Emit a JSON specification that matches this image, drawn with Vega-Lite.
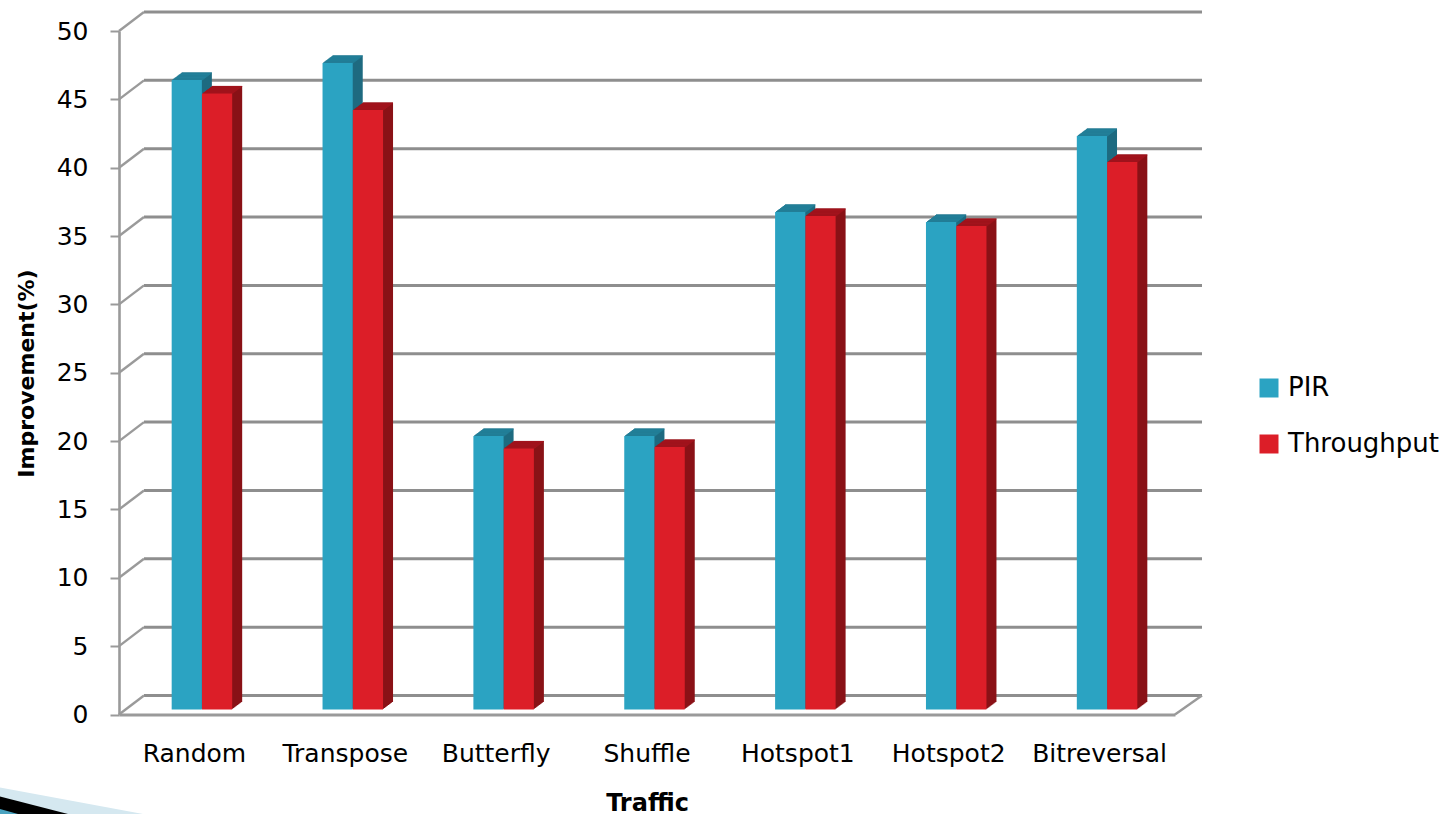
{"$schema":"https://vega.github.io/schema/vega-lite/v6.json","autosize":{"type":"none"},"padding":{"left":119,"top":31,"right":272,"bottom":99.5},"width":1056,"height":683.5,"background":"white","config":{"view":{"stroke":null},"font":"DejaVu Sans"},
"datasets":{"bars":[
{"traffic":"Random","series":"PIR","value":46.05},{"traffic":"Random","series":"Throughput","value":45.07},
{"traffic":"Transpose","series":"PIR","value":47.3},{"traffic":"Transpose","series":"Throughput","value":43.85},
{"traffic":"Butterfly","series":"PIR","value":20.0},{"traffic":"Butterfly","series":"Throughput","value":19.1},
{"traffic":"Shuffle","series":"PIR","value":20.0},{"traffic":"Shuffle","series":"Throughput","value":19.2},
{"traffic":"Hotspot1","series":"PIR","value":36.4},{"traffic":"Hotspot1","series":"Throughput","value":36.1},
{"traffic":"Hotspot2","series":"PIR","value":35.66},{"traffic":"Hotspot2","series":"Throughput","value":35.37},
{"traffic":"Bitreversal","series":"PIR","value":41.95},{"traffic":"Bitreversal","series":"Throughput","value":40.05}],
"ticks":[{"tick":0},{"tick":5},{"tick":10},{"tick":15},{"tick":20},{"tick":25},{"tick":30},{"tick":35},{"tick":40},{"tick":45},{"tick":50}],
"wedge":[{"part":"pale","run":0,"rise":787.5},{"part":"pale","run":143,"rise":814},{"part":"black","run":0,"rise":796.5},{"part":"black","run":68,"rise":814},{"part":"blue","run":0,"rise":809},{"part":"blue","run":18,"rise":814}]},
"resolve":{"scale":{"x":"independent","y":"independent"},"axis":{"x":"independent","y":"independent"}},
"layer":[
{"data":{"name":"wedge"},"encoding":{"x":{"field":"run","type":"quantitative","axis":null,"scale":{"domain":[0,143],"range":[-119,24],"nice":false,"zero":false}},"y":{"field":"rise","type":"quantitative","axis":null,"scale":{"domain":[787,814],"range":[756,783],"nice":false,"zero":false}},"y2":{"datum":814}},
"layer":[
{"transform":[{"filter":"datum.part==='pale'"}],"mark":{"type":"area","color":"#d5e8f0"}},
{"transform":[{"filter":"datum.part==='black'"}],"mark":{"type":"area","color":"#000000"}},
{"transform":[{"filter":"datum.part==='blue'"}],"mark":{"type":"area","color":"#4aa3c0"}}]},
{"layer":[
{"data":{"name":"ticks"},"mark":{"type":"rule","color":"#8e8e8e","strokeWidth":3,"yOffset":-19},"encoding":{"x":{"value":25},"x2":{"value":1083},"y":{"field":"tick","type":"quantitative","scale":{"domain":[0,50],"nice":false},"axis":{"values":[0,5,10,15,20,25,30,35,40,45,50],"grid":false,"title":"Improvement(%)","titleFontSize":22,"titleFontWeight":"bold","titleColor":"#000000","titleX":-81,"titleY":342,"labelFontSize":25,"labelColor":"#000000","labelPadding":22,"tickSize":9,"tickColor":"#9a9a9a","tickWidth":2,"domainColor":"#9a9a9a","domainWidth":2.6}}}},
{"data":{"name":"ticks"},"mark":{"type":"rule","color":"#9a9a9a","strokeWidth":2.4,"y2Offset":-19},"encoding":{"x":{"value":0},"x2":{"value":25},"y":{"field":"tick","type":"quantitative"},"y2":{"field":"tick"}}},
{"data":{"name":"ticks"},"transform":[{"filter":"datum.tick===0"}],"mark":{"type":"rule","color":"#9a9a9a","strokeWidth":2.4,"y2Offset":-19},"encoding":{"x":{"value":1056},"x2":{"value":1083},"y":{"field":"tick","type":"quantitative"},"y2":{"field":"tick"}}},
{"data":{"name":"bars"},"transform":[{"filter":"datum.series==='PIR'"}],
"encoding":{"x":{"field":"traffic","type":"nominal","sort":null,"scale":{"paddingInner":0.6,"paddingOuter":0.3},"axis":{"title":"Traffic","titleFontSize":24,"titleFontWeight":"bold","titleColor":"#000000","titleY":77,"labelFontSize":25,"labelColor":"#000000","labelAngle":0,"labelPadding":27,"ticks":false,"domainColor":"#9a9a9a","domainWidth":3}},"y":{"field":"value","type":"quantitative"}},
"layer":[
{"encoding":{"y2":{"datum":0}},"layer":[
{"mark":{"type":"bar","width":30.2,"color":"#1e6b80","xOffset":2.35,"yOffset":-12.5,"y2Offset":-12.5}},
{"mark":{"type":"bar","width":30.2,"color":"#1e6b80","xOffset":1.35,"yOffset":-11.75,"y2Offset":-11.75}},
{"mark":{"type":"bar","width":30.2,"color":"#1e6b80","xOffset":0.35,"yOffset":-11,"y2Offset":-11}},
{"mark":{"type":"bar","width":30.2,"color":"#1e6b80","xOffset":-0.65,"yOffset":-10.25,"y2Offset":-10.25}},
{"mark":{"type":"bar","width":30.2,"color":"#1e6b80","xOffset":-1.65,"yOffset":-9.5,"y2Offset":-9.5}},
{"mark":{"type":"bar","width":30.2,"color":"#1e6b80","xOffset":-2.65,"yOffset":-8.75,"y2Offset":-8.75}},
{"mark":{"type":"bar","width":30.2,"color":"#1e6b80","xOffset":-3.65,"yOffset":-8,"y2Offset":-8}},
{"mark":{"type":"bar","width":30.2,"color":"#1e6b80","xOffset":-4.65,"yOffset":-7.25,"y2Offset":-7.25}},
{"mark":{"type":"bar","width":30.2,"color":"#1e6b80","xOffset":-5.65,"yOffset":-6.5,"y2Offset":-6.5}},
{"mark":{"type":"bar","width":30.2,"color":"#1e6b80","xOffset":-6.65,"yOffset":-5.75,"y2Offset":-5.75}}]},
{"encoding":{"y2":{"field":"value"}},"layer":[
{"mark":{"type":"bar","width":30.2,"color":"#23809a","xOffset":2.35,"yOffset":-12.5,"y2Offset":-11.5}},
{"mark":{"type":"bar","width":30.2,"color":"#23809a","xOffset":1.35,"yOffset":-11.75,"y2Offset":-10.75}},
{"mark":{"type":"bar","width":30.2,"color":"#23809a","xOffset":0.35,"yOffset":-11,"y2Offset":-10}},
{"mark":{"type":"bar","width":30.2,"color":"#23809a","xOffset":-0.65,"yOffset":-10.25,"y2Offset":-9.25}},
{"mark":{"type":"bar","width":30.2,"color":"#23809a","xOffset":-1.65,"yOffset":-9.5,"y2Offset":-8.5}},
{"mark":{"type":"bar","width":30.2,"color":"#23809a","xOffset":-2.65,"yOffset":-8.75,"y2Offset":-7.75}},
{"mark":{"type":"bar","width":30.2,"color":"#23809a","xOffset":-3.65,"yOffset":-8,"y2Offset":-7}},
{"mark":{"type":"bar","width":30.2,"color":"#23809a","xOffset":-4.65,"yOffset":-7.25,"y2Offset":-6.25}},
{"mark":{"type":"bar","width":30.2,"color":"#23809a","xOffset":-5.65,"yOffset":-6.5,"y2Offset":-5.5}},
{"mark":{"type":"bar","width":30.2,"color":"#23809a","xOffset":-6.65,"yOffset":-5.75,"y2Offset":-4.75}}]},
{"mark":{"type":"bar","width":30.2,"xOffset":-7.65,"yOffset":-5,"y2Offset":-5},"encoding":{"y2":{"datum":0},"color":{"field":"series","type":"nominal","scale":{"domain":["PIR","Throughput"],"range":["#2ba3c2","#dc1e28"]},"legend":{"title":null,"orient":"none","legendX":1137,"legendY":344,"symbolType":"square","symbolSize":361,"symbolStrokeWidth":0,"labelFontSize":26,"labelColor":"#000000","labelOffset":6,"rowPadding":30}}}}]},
{"data":{"name":"bars"},"transform":[{"filter":"datum.series==='Throughput'"}],
"encoding":{"x":{"field":"traffic","type":"nominal","sort":null},"y":{"field":"value","type":"quantitative"}},
"layer":[
{"encoding":{"y2":{"datum":0}},"layer":[
{"mark":{"type":"bar","width":30.2,"color":"#8a1217","xOffset":32.65,"yOffset":-12.5,"y2Offset":-12.5}},
{"mark":{"type":"bar","width":30.2,"color":"#8a1217","xOffset":31.65,"yOffset":-11.75,"y2Offset":-11.75}},
{"mark":{"type":"bar","width":30.2,"color":"#8a1217","xOffset":30.65,"yOffset":-11,"y2Offset":-11}},
{"mark":{"type":"bar","width":30.2,"color":"#8a1217","xOffset":29.65,"yOffset":-10.25,"y2Offset":-10.25}},
{"mark":{"type":"bar","width":30.2,"color":"#8a1217","xOffset":28.65,"yOffset":-9.5,"y2Offset":-9.5}},
{"mark":{"type":"bar","width":30.2,"color":"#8a1217","xOffset":27.65,"yOffset":-8.75,"y2Offset":-8.75}},
{"mark":{"type":"bar","width":30.2,"color":"#8a1217","xOffset":26.65,"yOffset":-8,"y2Offset":-8}},
{"mark":{"type":"bar","width":30.2,"color":"#8a1217","xOffset":25.65,"yOffset":-7.25,"y2Offset":-7.25}},
{"mark":{"type":"bar","width":30.2,"color":"#8a1217","xOffset":24.65,"yOffset":-6.5,"y2Offset":-6.5}},
{"mark":{"type":"bar","width":30.2,"color":"#8a1217","xOffset":23.65,"yOffset":-5.75,"y2Offset":-5.75}}]},
{"encoding":{"y2":{"field":"value"}},"layer":[
{"mark":{"type":"bar","width":30.2,"color":"#a3141d","xOffset":32.65,"yOffset":-12.5,"y2Offset":-11.5}},
{"mark":{"type":"bar","width":30.2,"color":"#a3141d","xOffset":31.65,"yOffset":-11.75,"y2Offset":-10.75}},
{"mark":{"type":"bar","width":30.2,"color":"#a3141d","xOffset":30.65,"yOffset":-11,"y2Offset":-10}},
{"mark":{"type":"bar","width":30.2,"color":"#a3141d","xOffset":29.65,"yOffset":-10.25,"y2Offset":-9.25}},
{"mark":{"type":"bar","width":30.2,"color":"#a3141d","xOffset":28.65,"yOffset":-9.5,"y2Offset":-8.5}},
{"mark":{"type":"bar","width":30.2,"color":"#a3141d","xOffset":27.65,"yOffset":-8.75,"y2Offset":-7.75}},
{"mark":{"type":"bar","width":30.2,"color":"#a3141d","xOffset":26.65,"yOffset":-8,"y2Offset":-7}},
{"mark":{"type":"bar","width":30.2,"color":"#a3141d","xOffset":25.65,"yOffset":-7.25,"y2Offset":-6.25}},
{"mark":{"type":"bar","width":30.2,"color":"#a3141d","xOffset":24.65,"yOffset":-6.5,"y2Offset":-5.5}},
{"mark":{"type":"bar","width":30.2,"color":"#a3141d","xOffset":23.65,"yOffset":-5.75,"y2Offset":-4.75}}]},
{"mark":{"type":"bar","width":30.2,"xOffset":22.65,"yOffset":-5,"y2Offset":-5},"encoding":{"y2":{"datum":0},"color":{"field":"series","type":"nominal"}}}]}
]}]}
